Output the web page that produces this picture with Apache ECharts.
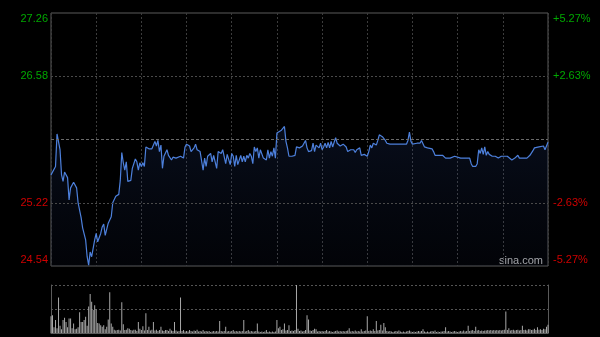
<!DOCTYPE html>
<html><head><meta charset="utf-8">
<script src="https://cdn.jsdelivr.net/npm/echarts@6/dist/echarts.min.js"></script>
<style>html,body{margin:0;padding:0;background:#000}#c{width:600px;height:337px}</style>
</head><body><div id="c"></div>
<script>
const priceTicks = [24.54, 25.22, 26.58, 27.26];
const pctLabels = ['-5.27%', '-2.63%', '+2.63%', '+5.27%'];
const prevClose = 25.90;
const priceMinutes = [0,3,4,6,7,8,9,11,12,13,15,17,18,20,21,22,23,24,25,26,27,29,30,31,33,34,35,36,38,40,41,43,45,46,47,48,49,50,51,52,53,54,56,57,58,59,60,61,62,63,65,66,67,68,69,70,71,72,73,74,75,77,78,79,80,81,83,86,87,88,89,90,92,93,95,96,97,99,100,101,102,103,104,106,107,108,109,110,111,112,113,114,116,117,118,119,120,121,122,123,124,126,127,128,129,130,131,132,133,134,135,136,137,138,139,141,142,143,144,145,146,147,148,149,150,151,153,154,155,156,157,158,159,160,161,162,163,164,165,166,167,169,170,171,172,173,174,175,176,178,179,180,181,182,183,184,185,186,187,189,190,191,192,193,194,195,196,197,199,200,201,202,203,204,205,206,207,208,210,211,212,213,214,215,216,217,218,220,221,222,223,225,236,237,238,239,240,241,243,244,245,246,247,248,250,253,254,255,258,260,262,265,266,268,272,274,278,279,280,282,283,284,285,286,287,288,289,290,291,292,293,294,295,297,298,299,300,301,302,303,304,306,307,308,309,310,311,312,314,315,316,317,318,319,320,321,322,324,325,327,328,330];
const priceValues = [25.52,25.61,25.96,25.79,25.52,25.45,25.55,25.49,25.25,25.38,25.44,25.38,25.22,25.06,24.95,24.97,24.82,24.64,24.55,24.69,24.64,24.82,24.89,24.80,24.89,24.96,24.99,24.87,25.00,25.07,25.22,25.29,25.31,25.46,25.76,25.65,25.57,25.66,25.45,25.45,25.46,25.59,25.69,25.66,25.57,25.65,25.61,25.65,25.61,25.82,25.80,25.81,25.80,25.82,25.88,25.83,25.89,25.77,25.84,25.59,25.72,25.79,25.73,25.72,25.68,25.71,25.70,25.72,25.72,25.70,25.82,25.85,25.83,25.77,25.81,25.85,25.79,25.77,25.75,25.57,25.70,25.61,25.72,25.75,25.66,25.73,25.72,25.59,25.77,25.79,25.75,25.79,25.64,25.74,25.76,25.63,25.75,25.72,25.61,25.73,25.63,25.73,25.66,25.72,25.66,25.73,25.70,25.75,25.72,25.64,25.82,25.77,25.81,25.70,25.79,25.70,25.70,25.68,25.79,25.70,25.77,25.72,25.81,25.70,25.97,25.99,26.00,26.01,26.04,25.88,25.81,25.72,25.73,25.72,25.73,25.73,25.82,25.82,25.81,25.82,25.83,25.89,25.81,25.77,25.76,25.78,25.86,25.77,25.84,25.81,25.86,25.79,25.82,25.86,25.81,25.87,25.81,25.88,25.82,25.92,25.86,25.84,25.83,25.81,25.85,25.84,25.82,25.77,25.79,25.77,25.79,25.76,25.79,25.77,25.81,25.73,25.73,25.74,25.72,25.77,25.84,25.81,25.86,25.88,25.84,25.89,25.95,25.93,25.91,25.89,25.86,25.85,25.85,25.89,25.98,25.88,25.85,25.87,25.86,25.85,25.86,25.89,25.87,25.82,25.81,25.80,25.77,25.73,25.73,25.73,25.70,25.70,25.72,25.72,25.70,25.70,25.70,25.64,25.61,25.61,25.64,25.79,25.75,25.81,25.74,25.82,25.73,25.77,25.74,25.73,25.72,25.74,25.72,25.70,25.68,25.72,25.70,25.72,25.70,25.72,25.70,25.68,25.70,25.70,25.69,25.73,25.70,25.72,25.70,25.70,25.70,25.72,25.73,25.75,25.78,25.81,25.79,25.82,25.84,25.83,25.79,25.87];
const volumes = [
35,37,12,27,10,74,15,8,27,32,
23,12,30,30,10,20,8,9,12,43,
23,23,27,34,15,55,81,65,48,58,
49,21,20,16,13,16,8,13,28,85,
20,13,7,5,6,7,5,64,18,6,
7,10,9,6,5,7,7,4,23,9,
6,14,5,41,6,13,5,7,23,5,
7,4,6,13,5,4,6,6,4,9,
5,4,23,5,3,4,74,4,6,3,
4,3,6,4,3,5,4,7,3,4,
3,6,3,4,3,4,2,3,4,3,
4,3,25,4,3,4,13,3,4,3,
4,6,3,4,3,4,3,4,27,3,
4,6,3,4,3,3,4,20,3,2,
3,2,3,6,2,3,2,3,2,3,
27,10,13,6,8,20,5,6,16,4,
5,4,6,100,9,4,5,3,4,6,
37,28,5,4,6,9,8,3,4,3,
4,3,4,6,3,4,3,2,3,4,
5,3,4,3,4,3,4,5,10,3,
4,3,5,3,4,3,8,3,4,5,
35,4,5,4,8,4,25,5,6,17,
5,21,12,4,3,4,3,2,3,4,
3,5,3,2,3,2,3,4,5,3,
2,3,2,3,4,3,4,8,3,2,
3,2,3,4,3,5,2,3,2,3,
3,4,12,3,4,3,2,3,4,3,
2,3,4,3,5,3,4,15,4,5,
6,4,13,5,6,4,5,4,5,5,
6,5,6,5,6,5,6,5,6,5,
6,7,45,6,10,5,6,7,5,6,
7,5,6,15,6,7,5,8,8,6,
7,9,6,12,7,8,6,9,8,13,
17];

const GREEN = '#00a800', RED = '#d00000';
const chart = echarts.init(document.getElementById('c'), null, {renderer: 'canvas'});
const pricePts = priceMinutes.map((m, i) => [m, priceValues[i]]);
const volPts = volumes.map((v, i) => [i, v]);
const lblFont = {fontFamily: 'Liberation Sans, Arial, sans-serif', fontSize: 11};
function styleKey(v, idx) {
  const up = v > prevClose;
  const top = idx === priceTicks.length - 1, bot = idx === 0;
  return (up ? 'g' : 'r') + (top ? 'T' : bot ? 'B' : 'M');
}
const rich = {
  gT: {color: GREEN, padding: [12,0,0,0], ...lblFont},
  gM: {color: GREEN, ...lblFont},
  gB: {color: GREEN, padding: [0,0,12,0], ...lblFont},
  rT: {color: RED, padding: [12,0,0,0], ...lblFont},
  rM: {color: RED, ...lblFont},
  rB: {color: RED, padding: [0,0,12,0], ...lblFont}
};
function tickIndex(v) {
  let best = 0;
  priceTicks.forEach((t, i) => { if (Math.abs(t - v) < Math.abs(priceTicks[best] - v)) best = i; });
  return best;
}
chart.setOption({
  backgroundColor: '#000',
  animation: false,
  grid: [
    {left: 51, right: 52, top: 13, height: 253, show: true, borderColor: '#5a5a5a', borderWidth: 1},
    {left: 51, right: 52, top: 285, height: 48, show: false}
  ],
  xAxis: [
    {type: 'value', gridIndex: 0, min: 0, max: 330, interval: 30,
     axisLabel: {show: false}, axisTick: {show: false}, axisLine: {show: false},
     splitLine: {show: true, lineStyle: {type: [2, 2], color: '#3c3c3c', width: 1}}},
    {type: 'value', gridIndex: 1, min: 0, max: 330, interval: 30,
     axisLabel: {show: false}, axisTick: {show: false},
     axisLine: {show: true, onZero: false, lineStyle: {color: '#5a5a5a', width: 1}},
     splitLine: {show: false}}
  ],
  yAxis: [
    {type: 'value', gridIndex: 0, min: 24.54, max: 27.26, position: 'left',
     axisLine: {show: false}, axisTick: {show: false}, splitLine: {show: false},
     axisLabel: {customValues: priceTicks, margin: 3, rich: rich,
       formatter: v => { const i = tickIndex(v); return '{' + styleKey(priceTicks[i], i) + '|' + priceTicks[i].toFixed(2) + '}'; }}},
    {type: 'value', gridIndex: 0, min: 24.54, max: 27.26, position: 'right',
     axisLine: {show: false}, axisTick: {show: false}, splitLine: {show: false},
     axisLabel: {customValues: priceTicks, margin: 5, rich: rich,
       formatter: v => { const i = tickIndex(v); return '{' + styleKey(priceTicks[i], i) + '|' + pctLabels[i] + '}'; }}},
    {type: 'value', gridIndex: 1, min: 0, max: 100, interval: 50, position: 'left',
     axisLabel: {show: false}, axisTick: {show: false},
     axisLine: {show: true, lineStyle: {color: '#5a5a5a', width: 1}},
     splitLine: {show: true, lineStyle: {type: [2, 2], color: '#555', width: 1}}},
    {type: 'value', gridIndex: 1, min: 0, max: 100, interval: 50, position: 'right',
     axisLabel: {show: false}, axisTick: {show: false},
     axisLine: {show: true, lineStyle: {color: '#5a5a5a', width: 1}},
     splitLine: {show: false}}
  ],
  series: [
    {type: 'line', xAxisIndex: 0, yAxisIndex: 0, data: pricePts, showSymbol: false, symbol: 'none',
     lineStyle: {color: '#4d80dc', width: 1.2},
     areaStyle: {origin: 'start', color: new echarts.graphic.LinearGradient(0, 0, 0, 1, [
       {offset: 0, color: 'rgba(40,70,140,0.28)'}, {offset: 1, color: 'rgba(25,40,90,0.12)'}])},
     markLine: {silent: true, symbol: 'none', label: {show: false}, animation: false,
       data: [
         {yAxis: priceTicks[1], lineStyle: {type: [2, 2], color: '#4a4a4a', width: 1}},
         {yAxis: prevClose, lineStyle: {type: [3, 2], color: '#6a6a6a', width: 1}},
         {yAxis: priceTicks[2], lineStyle: {type: [2, 2], color: '#4a4a4a', width: 1}}
       ]}},
    {type: 'bar', xAxisIndex: 1, yAxisIndex: 2, data: volPts, barWidth: 1,
     itemStyle: {color: '#a8a8a8'}}
  ],
  graphic: [
    {type: 'text', left: 499, top: 255, style: {text: 'sina.com', fill: '#b0b0b0', font: '11px Liberation Sans, Arial, sans-serif'}}
  ]
});
</script></body></html>
